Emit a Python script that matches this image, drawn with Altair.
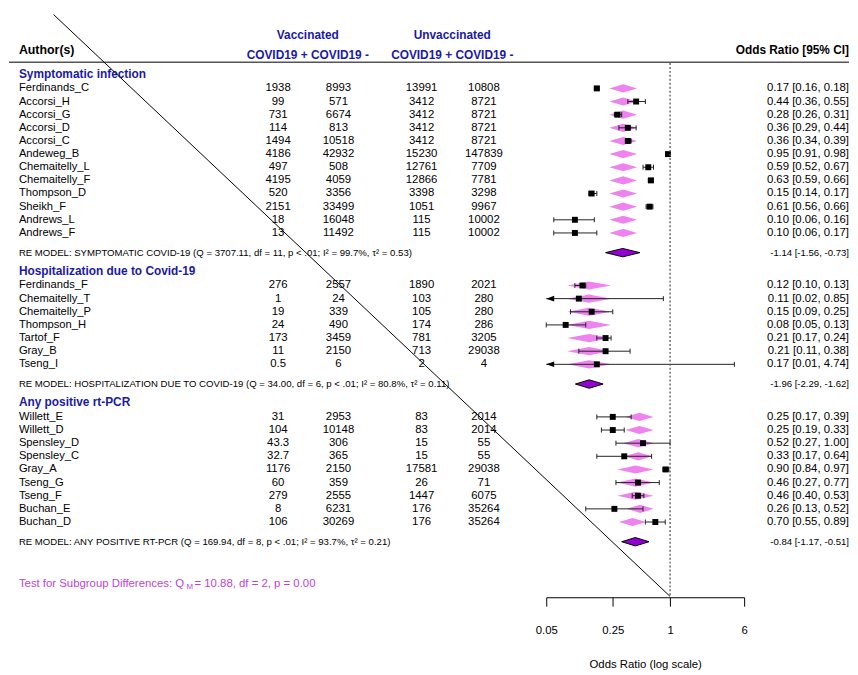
import altair as alt
import pandas as pd
import numpy as np

FONT = "Liberation Sans"
BLUE = "#1a1aa6"

# ---------------- data ----------------
authors = ["Ferdinands_C", "Accorsi_H", "Accorsi_G", "Accorsi_D", "Accorsi_C", "Andeweg_B",
           "Chemaitelly_L", "Chemaitelly_F", "Thompson_D", "Sheikh_F", "Andrews_L", "Andrews_F",
           "Ferdinands_F", "Chemaitelly_T", "Chemaitelly_P", "Thompson_H", "Tartof_F", "Gray_B", "Tseng_I",
           "Willett_E", "Willett_D", "Spensley_D", "Spensley_C", "Gray_A", "Tseng_G", "Tseng_F",
           "Buchan_E", "Buchan_D"]
vacc_pos = ["1938", "99", "731", "114", "1494", "4186", "497", "4195", "520", "2151", "18", "13",
            "276", "1", "19", "24", "173", "11", "0.5",
            "31", "104", "43.3", "32.7", "1176", "60", "279", "8", "106"]
vacc_neg = ["8993", "571", "6674", "813", "10518", "42932", "508", "4059", "3356", "33499", "16048", "11492",
            "2557", "24", "339", "490", "3459", "2150", "6",
            "2953", "10148", "306", "365", "2150", "359", "2555", "6231", "30269"]
unvacc_pos = ["13991", "3412", "3412", "3412", "3412", "15230", "12761", "12866", "3398", "1051", "115", "115",
              "1890", "103", "105", "174", "781", "713", "2",
              "83", "83", "15", "15", "17581", "26", "1447", "176", "176"]
unvacc_neg = ["10808", "8721", "8721", "8721", "8721", "147839", "7709", "7781", "3298", "9967", "10002", "10002",
              "2021", "280", "280", "286", "3205", "29038", "4",
              "2014", "2014", "55", "55", "29038", "71", "6075", "35264", "35264"]
odds = [0.17, 0.44, 0.28, 0.36, 0.36, 0.95, 0.59, 0.63, 0.15, 0.61, 0.10, 0.10,
        0.12, 0.11, 0.15, 0.08, 0.21, 0.21, 0.17,
        0.25, 0.25, 0.52, 0.33, 0.90, 0.46, 0.46, 0.26, 0.70]
ci_low = [0.16, 0.36, 0.26, 0.29, 0.34, 0.91, 0.52, 0.59, 0.14, 0.56, 0.06, 0.06,
          0.10, 0.02, 0.09, 0.05, 0.17, 0.11, 0.01,
          0.17, 0.19, 0.27, 0.17, 0.84, 0.27, 0.40, 0.13, 0.55]
ci_high = [0.18, 0.55, 0.31, 0.44, 0.39, 0.98, 0.67, 0.66, 0.17, 0.66, 0.16, 0.17,
           0.13, 0.85, 0.25, 0.13, 0.24, 0.38, 4.74,
           0.39, 0.33, 1.00, 0.64, 0.97, 0.77, 0.53, 0.52, 0.89]
# pink (fitted) diamonds per study, odds-ratio scale
fit_low = [0.23, 0.23, 0.23, 0.23, 0.23, 0.23, 0.23, 0.23, 0.23, 0.23, 0.23, 0.23,
           0.083, 0.083, 0.083, 0.083, 0.083, 0.083, 0.083,
           0.34, 0.34, 0.32, 0.33, 0.28, 0.28, 0.28, 0.35, 0.29]
fit_high = [0.45, 0.45, 0.45, 0.45, 0.45, 0.45, 0.45, 0.45, 0.45, 0.45, 0.45, 0.45,
            0.24, 0.24, 0.24, 0.24, 0.24, 0.24, 0.24,
            0.67, 0.67, 0.67, 0.65, 0.67, 0.67, 0.67, 0.67, 0.56]
row_pos = [0, 1, 2, 3, 4, 5, 6, 7, 8, 9, 10, 11,
           15, 16, 17, 18, 19, 20, 21,
           25, 26, 27, 28, 29, 30, 31, 32, 33]

group_names = ["Symptomatic infection", "Hospitalization due to Covid-19", "Any positive rt-PCR"]
group_pos = [-1.1, 13.9, 23.9]
re_labels = ["RE MODEL: SYMPTOMATIC COVID-19 (Q = 3707.11, df = 11, p < .01; I² = 99.7%, τ² = 0.53)",
             "RE MODEL: HOSPITALIZATION DUE TO COVID-19 (Q = 34.00, df = 6, p < .01; I² = 80.8%, τ² = 0.11)",
             "RE MODEL: ANY POSITIVE RT-PCR  (Q = 169.94, df = 8, p < .01; I² = 93.7%, τ² = 0.21)"]
re_pos = [12.5, 22.5, 34.5]
re_est = [-1.14, -1.96, -0.84]
re_low = [-1.56, -2.29, -1.17]
re_high = [-0.73, -1.62, -0.51]
test_pos = [37.7]
axis_ticks = [0.05, 0.25, 1, 6]
x_min, x_max = 0.05, 6

# ---------------- frames ----------------
df = pd.DataFrame({"author": authors, "vp": vacc_pos, "vn": vacc_neg, "up": unvacc_pos, "un": unvacc_neg,
                   "or": odds, "lo": ci_low, "hi": ci_high, "k": row_pos,
                   "flo": fit_low, "fhi": fit_high})
df["lo_c"] = df["lo"].clip(lower=x_min)
df["label"] = [f"{o:.2f} [{l:.2f}, {h:.2f}]" for o, l, h in zip(odds, ci_low, ci_high)]

caps = pd.concat([
    df.loc[df["lo"] >= x_min, ["k", "lo"]].rename(columns={"lo": "x"}),
    df[["k", "hi"]].rename(columns={"hi": "x"}),
])
caps["y1"] = caps["k"] - 0.19
caps["y2"] = caps["k"] + 0.19
arrows = df.loc[df["lo"] < x_min, ["k"]].copy()
arrows["x"] = x_min

def diamond_frame(ids, los, his, ks, half):
    recs = []
    for i, lo, hi, k in zip(ids, los, his, ks):
        c = float(np.sqrt(lo * hi))
        recs += [dict(id=i, x=lo, y1=k, y2=k), dict(id=i, x=c, y1=k - half, y2=k + half),
                 dict(id=i, x=hi, y1=k, y2=k)]
    return pd.DataFrame(recs)

pink = diamond_frame(authors, fit_low, fit_high, row_pos, 0.31)
summ = diamond_frame(list(range(3)), list(np.exp(re_low)), list(np.exp(re_high)), re_pos, 0.32)
summ["id"] = summ["id"].astype(str)

groups = pd.DataFrame({"name": group_names, "k": group_pos})
re_df = pd.DataFrame({"name": re_labels, "k": re_pos,
                      "label": [f"{e:.2f} [{l:.2f}, {h:.2f}]" for e, l, h in zip(re_est, re_low, re_high)]})
test_df = pd.DataFrame({"k": test_pos})
one = pd.DataFrame({"x": [1.0]})

# ---------------- scales ----------------
sx = alt.Scale(type="log", domain=[x_min, x_max], range=[543, 743], nice=False)
sy = alt.Scale(domain=[-5.851, 38.727], reverse=True, nice=False, zero=False)
xax = alt.Axis(values=axis_ticks, format="~g", title="Odds Ratio (log scale)", grid=False,
               tickSize=9, tickWidth=1, tickColor="black", domainColor="black", domainWidth=1,
               labelPadding=25, labelBaseline="middle", labelFlush=False, labelOverlap=False,
               labelFont=FONT, labelFontSize=11.5, labelColor="black",
               titleFont=FONT, titleFontSize=11.5, titleFontWeight="normal", titleColor="black",
               titleY=68, titleBaseline="middle")

def X(f):
    return alt.X(f, type="quantitative", scale=sx, axis=xax)

def Y(f):
    return alt.Y(f, type="quantitative", scale=sy, axis=None)

# ---------------- layers ----------------
pink_l = alt.Chart(pink).mark_area(orient="vertical", color="#EE82EE", opacity=1).encode(
    x=X("x"), y=Y("y1"), y2="y2", detail="id:N")
summ_l = alt.Chart(summ).mark_area(orient="vertical", color="#9400D3", stroke="black",
                                   strokeWidth=1, opacity=1).encode(
    x=X("x"), y=Y("y1"), y2="y2", detail="id:N")
ci_l = alt.Chart(df).mark_rule(color="#222222", strokeWidth=1).encode(
    x=X("lo_c"), x2="hi", y=Y("k"))
cap_l = alt.Chart(caps).mark_rule(color="#222222", strokeWidth=1).encode(
    x=X("x"), y=Y("y1"), y2="y2")
arr_l = alt.Chart(arrows).mark_point(shape="M0,0L2,-0.7L2,0.7Z", size=64, filled=True,
                                     color="black", opacity=1).encode(x=X("x"), y=Y("k"))
sq_l = alt.Chart(df).mark_square(size=36, color="black", opacity=1).encode(x=X("or"), y=Y("k"))
ref_l = alt.Chart(one).mark_rule(color="#555555", strokeDash=[2, 2], strokeWidth=1.3).encode(
    x=X("x"), y=alt.value(52), y2=alt.value(592))

def txt(data, field, xpx, align, size=11.5, weight="normal", color="black", ykey="k", dy=0):
    return alt.Chart(data).mark_text(align=align, baseline="middle", font=FONT, fontSize=size,
                                     fontWeight=weight, color=color, dy=dy).encode(
        x=alt.value(xpx), y=Y(ykey), text=f"{field}:N")

names_l = txt(df, "author", 10, "left", size=11.3)
c1 = txt(df, "vp", 272, "center")
c2 = txt(df, "vn", 333, "center")
c3 = txt(df, "up", 417, "center")
c4 = txt(df, "un", 480, "center")
rt = txt(df, "label", 849, "right")
grp_l = txt(groups, "name", 10, "left", size=12, weight="bold", color=BLUE)
re_l = txt(re_df, "name", 10, "left", size=9.7)
re_r = txt(re_df, "label", 849, "right", size=9.7)

TEST = "#C03FD8"
test1 = alt.Chart(test_df).mark_text(align="left", baseline="middle", font=FONT, fontSize=11.5,
                                     color=TEST).encode(x=alt.value(10), y=Y("k"),
                                                        text=alt.value("Test for Subgroup Differences: Q"))
test2 = alt.Chart(test_df).mark_text(align="left", baseline="middle", font=FONT, fontSize=8,
                                     color=TEST, dy=3).encode(x=alt.value(179.5), y=Y("k"),
                                                              text=alt.value("M"))
test3 = alt.Chart(test_df).mark_text(align="left", baseline="middle", font=FONT, fontSize=11.5,
                                     color=TEST).encode(x=alt.value(187.5), y=Y("k"),
                                                        text=alt.value(" = 10.88, df = 2, p = 0.00"))

def head(text, xpx, ypx, align, color, size=12):
    return alt.Chart(one).mark_text(align=align, baseline="middle", font=FONT, fontSize=size,
                                    fontWeight="bold", color=color).encode(
        x=alt.value(xpx), y=alt.value(ypx), text=alt.value(text))

heads = [head("Author(s)", 10, 39, "left", "black", 12.5),
         head("Vaccinated", 302, 24, "center", BLUE),
         head("Unvaccinated", 448, 24, "center", BLUE),
         head("COVID19 + COVID19 -", 302, 43.5, "center", BLUE),
         head("COVID19 + COVID19 -", 448, 43.5, "center", BLUE),
         head("Odds Ratio [95% CI]", 849, 39, "right", "black")]

hline = alt.Chart(one).mark_rule(color="#555555", strokeWidth=1.5).encode(
    x=alt.value(0), x2=alt.value(849), y=alt.value(51.3))
diag = alt.Chart(one).mark_rule(color="black", strokeWidth=1).encode(
    x=alt.value(45), y=alt.value(3), x2=alt.value(668), y2=alt.value(591))

chart = alt.layer(
    pink_l, summ_l, ci_l, cap_l, arr_l, sq_l, ref_l,
    names_l, c1, c2, c3, c4, rt, grp_l, re_l, re_r, test1, test2, test3,
    *heads, hline, diag
).properties(width=842, height=592, padding=0, background="white").configure_view(stroke=None)

chart.save("out.html", embed_options={"renderer": "svg", "actions": False})
